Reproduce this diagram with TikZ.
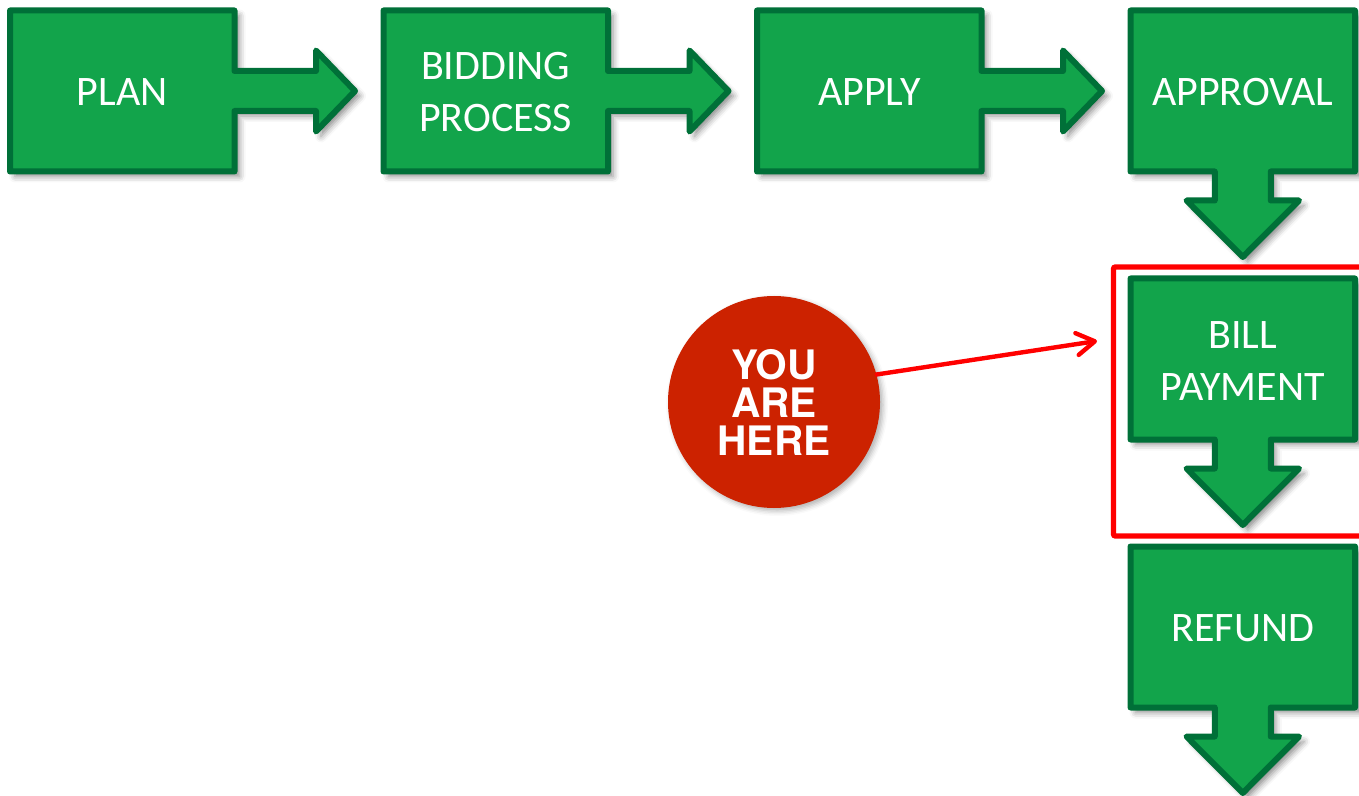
\documentclass[tikz,border=0pt]{standalone}
\usepackage{fontspec}
\setmainfont{Carlito}
\newfontfamily\herefont{TeX Gyre Heros}
\usetikzlibrary{arrows.meta,shadows.blur}

\definecolor{stepfill}{HTML}{12A44B}
\definecolor{stepline}{HTML}{007038}
\definecolor{herefill}{HTML}{CC2200}

\tikzset{
    stepshape/.style={draw=stepline, fill=stepfill, line width=3pt, line join=round,
        blur shadow={shadow xshift=2.5pt, shadow yshift=-2.5pt, shadow blur radius=3pt, shadow opacity=45}},
    steptext/.style={text=white, align=center, inner sep=0pt,
        font=\fontsize{21}{26}\selectfont},
    heretext/.style={circle, fill=herefill, text=white, align=center, inner sep=0pt, minimum size=106pt,
        font=\herefont\bfseries\fontsize{20.3}{19}\selectfont,
        blur shadow={shadow xshift=1.5pt, shadow yshift=-1.5pt, shadow blur radius=2.5pt, shadow opacity=30}},
    redline/.style={draw=red, line width=2.7pt},
    rightstep/.pic={
        \path[stepshape] (0,0) -- (224.5,0) -- (224.5,60.5) -- (306,60.5) -- (306,40) -- (345,80.5)
            -- (306,121) -- (306,100.5) -- (224.5,100.5) -- (224.5,161) -- (0,161) -- cycle;
    },
    downstep/.pic={
        \path[stepshape] (0,0) -- (224.5,0) -- (224.5,161) -- (140.25,161) -- (140.25,190) -- (168.5,190)
            -- (112.25,246.5) -- (56,190) -- (84.25,190) -- (84.25,161) -- (0,161) -- cycle;
    },
}

\begin{document}
\begin{tikzpicture}[x=0.5pt,y=-0.5pt]
    \clip (0,0) rectangle (1359,796);

    % top row
    \pic at (10,10.5) {rightstep};
    \pic at (383.5,10.5) {rightstep};
    \pic at (757,10.5) {rightstep};

    % right column
    \pic at (1130.5,10.5) {downstep};
    \pic at (1130.5,278.5) {downstep};
    \pic at (1130.5,546.5) {downstep};

    \node[steptext] (plan) at (122.25,92) {PLAN};
    \node[steptext] (bidding) at (495.75,92) {BIDDING\\PROCESS};
    \node[steptext] (apply) at (869.25,92) {APPLY};
    \node[steptext] (approval) at (1242.75,92) {APPROVAL};
    \node[steptext] (bill) at (1242.75,361) {BILL\\PAYMENT};
    \node[steptext] (refund) at (1242.75,628) {REFUND};

    % marker
    \node[heretext] (here) at (774,402) {YOU\\ARE\\HERE};
    \coordinate (billtip) at (1097,341);

    \draw[redline, rounded corners=1pt] (1113.5,267) rectangle (1400,536);
    \draw[redline, line width=2.2pt, line cap=round, -{Straight Barb[length=9pt,width=11pt,line width=2.2pt,round]}] (here.15) -- (billtip);
\end{tikzpicture}
\end{document}
